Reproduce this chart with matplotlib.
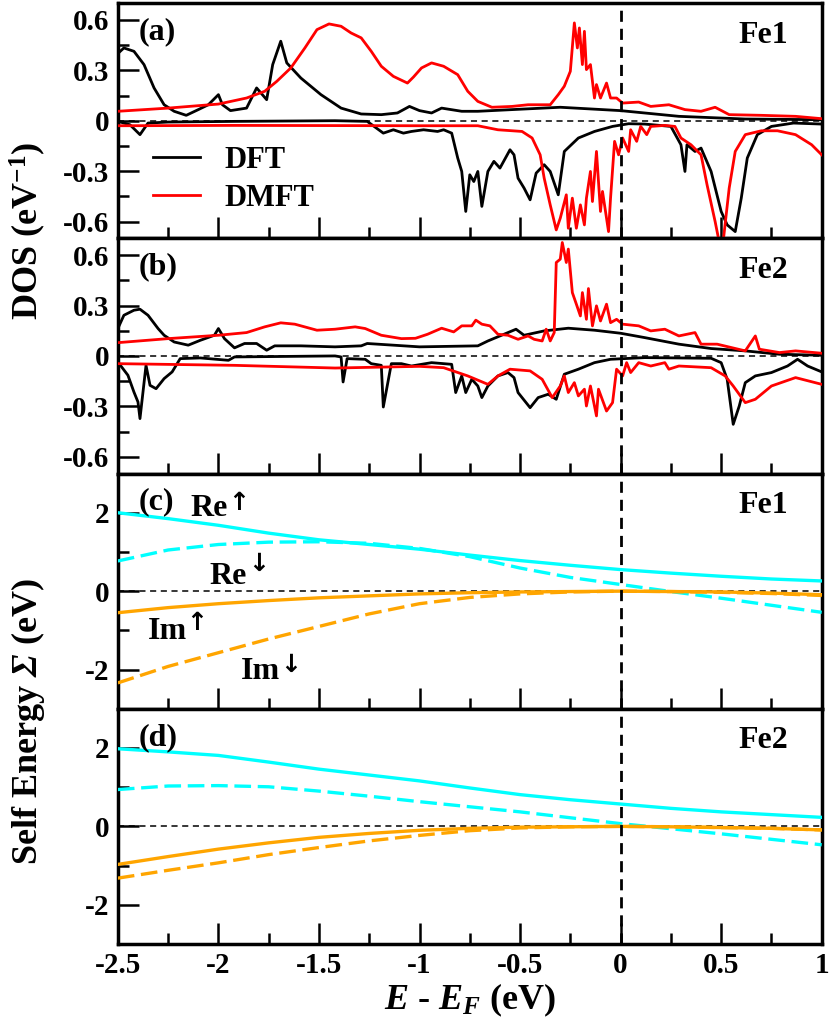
import numpy as np
import matplotlib
matplotlib.use("Agg")
import matplotlib.pyplot as plt
from matplotlib.ticker import MultipleLocator

# ---- fonts: bold Times-like serif everywhere ----
plt.rcParams['font.family'] = ['Liberation Serif', 'DejaVu Serif']
plt.rcParams['font.weight'] = 'bold'
plt.rcParams['axes.unicode_minus'] = False
plt.rcParams['mathtext.fontset'] = 'custom'
plt.rcParams['mathtext.rm'] = 'Liberation Serif:bold'
plt.rcParams['mathtext.bf'] = 'Liberation Serif:bold'
plt.rcParams['mathtext.it'] = 'Liberation Serif:bold:italic'
plt.rcParams['mathtext.bfit'] = 'Liberation Serif:bold:italic'

# ---- Fe1 DOS (panel a) ----
fe1_dft_up_e = [-2.50, -2.47, -2.42, -2.37, -2.32, -2.27, -2.22, -2.16, -2.10, -2.05, -2.00, -1.98, -1.94,
                -1.86, -1.81, -1.76, -1.73, -1.69, -1.66, -1.59, -1.49, -1.39, -1.29, -1.19, -1.11, -1.05,
                -1.00, -0.94, -0.89, -0.79, -0.71, -0.54, -0.30, 0.00, 0.29, 0.62, 1.00]
fe1_dft_up = [0.40, 0.433, 0.413, 0.334, 0.195, 0.095, 0.056, 0.032, 0.066, 0.095, 0.155, 0.095, 0.06,
              0.075, 0.195, 0.125, 0.334, 0.473, 0.344, 0.254, 0.155, 0.075, 0.04, 0.036, 0.046, 0.085,
              0.06, 0.046, 0.075, 0.056, 0.056, 0.066, 0.08, 0.06, 0.026, 0.01, 0.006]

fe1_dmft_up_e = [-2.50, -2.25, -2.00, -1.86, -1.77, -1.71, -1.64, -1.57, -1.51, -1.45, -1.39, -1.34, -1.29,
                 -1.24, -1.19, -1.13, -1.06, -1.03, -0.99, -0.94, -0.88, -0.81, -0.76, -0.71, -0.64, -0.54,
                 -0.46, -0.35, -0.31, -0.28, -0.25, -0.23, -0.215, -0.205, -0.19, -0.18, -0.17, -0.15,
                 -0.13, -0.12, -0.10, -0.07, -0.05, -0.02, 0.01, 0.09, 0.15, 0.24, 0.32, 0.40, 0.47, 0.54,
                 0.70, 0.87, 1.00]
fe1_dmft_up = [0.056, 0.075, 0.099, 0.135, 0.175, 0.234, 0.314, 0.433, 0.542, 0.576, 0.562, 0.522, 0.493,
               0.413, 0.324, 0.264, 0.224, 0.26, 0.314, 0.344, 0.324, 0.274, 0.175, 0.115, 0.08, 0.085,
               0.095, 0.095, 0.155, 0.205, 0.294, 0.582, 0.433, 0.552, 0.334, 0.532, 0.304, 0.334,
               0.135, 0.215, 0.135, 0.224, 0.135, 0.135, 0.105, 0.111, 0.085, 0.095, 0.066, 0.056, 0.08,
               0.036, 0.032, 0.026, 0.012]

fe1_dft_dn_e = [-2.50, -2.44, -2.39, -2.35, -2.25, -1.92, -1.42, -1.26, -1.18, -1.13, -1.08, -1.04, -0.98,
                -0.91, -0.88, -0.84, -0.81, -0.79, -0.77, -0.75, -0.73, -0.71, -0.69, -0.66, -0.63, -0.60,
                -0.55, -0.53, -0.51, -0.48, -0.45, -0.42, -0.38, -0.35, -0.31, -0.28, -0.21, -0.13, -0.04,
                0.04, 0.12, 0.25, 0.30, 0.32, 0.33, 0.37, 0.40, 0.45, 0.50, 0.53, 0.57, 0.60, 0.63, 0.68,
                0.75, 0.86, 1.00]
fe1_dft_dn = [-0.004, -0.024, -0.083, -0.014, -0.008, -0.004, 0.0, -0.004, -0.074, -0.054, -0.074, -0.064,
              -0.054, -0.064, -0.054, -0.074, -0.222, -0.302, -0.54, -0.322, -0.362, -0.302, -0.51, -0.302,
              -0.242, -0.282, -0.173, -0.203, -0.342, -0.401, -0.471, -0.312, -0.262, -0.302, -0.441,
              -0.183, -0.103, -0.064, -0.034, -0.018, -0.02, -0.034, -0.143, -0.302, -0.143, -0.183,
              -0.163, -0.302, -0.54, -0.62, -0.66, -0.461, -0.222, -0.083, -0.034, -0.014, -0.02]

fe1_dmft_dn_e = [-2.50, -1.92, -1.00, -0.71, -0.61, -0.49, -0.44, -0.40, -0.38, -0.35, -0.32, -0.30, -0.27,
                 -0.26, -0.24, -0.22, -0.20, -0.18, -0.17, -0.15, -0.14, -0.12, -0.10, -0.09, -0.06, -0.05,
                 -0.03, -0.01, 0.01, 0.04, 0.05, 0.08, 0.10, 0.13, 0.15, 0.22, 0.27, 0.30, 0.35, 0.40, 0.43,
                 0.47, 0.49, 0.51, 0.54, 0.57, 0.62, 0.70, 0.78, 0.87, 0.95, 1.00]
fe1_dmft_dn = [-0.03, -0.028, -0.03, -0.03, -0.054, -0.064, -0.103, -0.203, -0.342, -0.501, -0.65, -0.58,
               -0.441, -0.64, -0.461, -0.64, -0.501, -0.62, -0.461, -0.302, -0.481, -0.183, -0.54, -0.421,
               -0.66, -0.461, -0.123, -0.203, -0.103, -0.183, -0.054, -0.123, -0.034, -0.083, -0.034,
               -0.028, -0.034, -0.103, -0.143, -0.203, -0.382, -0.60, -0.72, -0.72, -0.401, -0.183,
               -0.083, -0.06, -0.06, -0.083, -0.143, -0.203]

# ---- Fe2 DOS (panel b) ----
fe2_dft_up_e = [-2.50, -2.47, -2.42, -2.39, -2.35, -2.30, -2.27, -2.22, -2.15, -2.09, -2.02, -2.00, -1.97,
                -1.92, -1.87, -1.81, -1.76, -1.72, -1.59, -1.42, -1.29, -1.26, -1.13, -1.00, -0.71, -0.66,
                -0.58, -0.52, -0.48, -0.38, -0.26, -0.13, 0.00, 0.12, 0.29, 0.45, 0.62, 0.79, 1.00]
fe2_dft_up = [0.163, 0.242, 0.272, 0.278, 0.242, 0.163, 0.123, 0.083, 0.064, 0.093, 0.123, 0.163, 0.103,
              0.048, 0.074, 0.074, 0.034, 0.06, 0.06, 0.054, 0.06, 0.074, 0.064, 0.054, 0.06, 0.089,
              0.129, 0.159, 0.123, 0.149, 0.165, 0.153, 0.135, 0.109, 0.07, 0.044, 0.03, 0.01, 0.004]

fe2_dmft_up_e = [-2.50, -2.25, -2.00, -1.86, -1.77, -1.69, -1.62, -1.51, -1.42, -1.32, -1.27, -1.19, -1.09,
                 -1.02, -0.96, -0.89, -0.83, -0.79, -0.74, -0.72, -0.69, -0.65, -0.61, -0.56, -0.51, -0.46,
                 -0.43, -0.39, -0.37, -0.35, -0.33, -0.32, -0.30, -0.29, -0.27, -0.26, -0.24, -0.22, -0.20,
                 -0.19, -0.17, -0.16, -0.14, -0.12, -0.10, -0.07, -0.05, -0.02, 0.01, 0.09, 0.15, 0.22,
                 0.29, 0.37, 0.40, 0.48, 0.62, 0.67, 0.69, 0.79, 0.87, 1.00]
fe2_dmft_up = [0.079, 0.103, 0.123, 0.139, 0.173, 0.197, 0.189, 0.153, 0.159, 0.173, 0.163, 0.123, 0.103,
               0.105, 0.129, 0.165, 0.143, 0.179, 0.179, 0.213, 0.189, 0.179, 0.129, 0.123, 0.099, 0.119,
               0.099, 0.089, 0.159, 0.089, 0.139, 0.556, 0.576, 0.675, 0.556, 0.636, 0.377, 0.308, 0.238,
               0.377, 0.218, 0.401, 0.179, 0.298, 0.208, 0.308, 0.198, 0.218, 0.189, 0.179, 0.149, 0.159,
               0.119, 0.139, 0.07, 0.07, 0.03, 0.119, 0.04, 0.02, 0.03, 0.016]

fe2_dft_dn_e = [-2.50, -2.45, -2.42, -2.40, -2.39, -2.36, -2.34, -2.31, -2.27, -2.23, -2.19, -2.09, -1.95,
                -1.92, -1.42, -1.39, -1.38, -1.36, -1.27, -1.24, -1.19, -1.18, -1.14, -1.09, -1.04, -0.94,
                -0.84, -0.82, -0.79, -0.77, -0.74, -0.71, -0.69, -0.66, -0.61, -0.56, -0.53, -0.51, -0.45,
                -0.41, -0.36, -0.32, -0.28, -0.21, -0.13, -0.05, 0.12, 0.45, 0.50, 0.53, 0.56, 0.59, 0.62,
                0.67, 0.75, 0.83, 0.88, 0.93, 1.00]
fe2_dft_dn = [-0.036, -0.115, -0.215, -0.274, -0.373, -0.056, -0.175, -0.195, -0.135, -0.095, -0.016,
              -0.012, -0.026, -0.006, 0.0, -0.006, -0.155, -0.016, -0.02, -0.046, -0.056, -0.304, -0.046,
              -0.046, -0.06, -0.04, -0.05, -0.218, -0.119, -0.218, -0.139, -0.179, -0.248, -0.179, -0.119,
              -0.099, -0.129, -0.218, -0.308, -0.248, -0.228, -0.258, -0.109, -0.079, -0.04, -0.02, -0.01,
              -0.014, -0.04, -0.139, -0.407, -0.298, -0.159, -0.119, -0.099, -0.06, -0.02, -0.06, -0.095]

fe2_dmft_dn_e = [-2.50, -1.92, -1.42, -1.00, -0.88, -0.76, -0.66, -0.61, -0.55, -0.45, -0.39, -0.34, -0.30,
                 -0.28, -0.26, -0.23, -0.21, -0.18, -0.17, -0.15, -0.12, -0.11, -0.07, -0.04, -0.02, 0.01,
                 0.03, 0.05, 0.09, 0.15, 0.22, 0.24, 0.29, 0.45, 0.52, 0.56, 0.62, 0.67, 0.75, 0.87, 1.00]
fe2_dmft_dn = [-0.046, -0.056, -0.072, -0.062, -0.07, -0.119, -0.169, -0.119, -0.079, -0.089, -0.139,
               -0.248, -0.179, -0.119, -0.218, -0.159, -0.238, -0.198, -0.298, -0.179, -0.357, -0.198,
               -0.328, -0.278, -0.079, -0.119, -0.04, -0.099, -0.04, -0.06, -0.04, -0.079, -0.06, -0.07,
               -0.119, -0.179, -0.278, -0.258, -0.179, -0.129, -0.169]

# ---- self energies (panels c, d) ----
sigma_e = [-2.5, -2.25, -2.0, -1.75, -1.5, -1.25, -1.0, -0.75, -0.5, -0.25, 0.0, 0.25, 0.5, 0.75, 1.0]
fe1_re_up = [2.00, 1.85, 1.68, 1.48, 1.31, 1.19, 1.07, 0.92, 0.78, 0.66, 0.55, 0.46, 0.38, 0.31, 0.26]
fe1_re_dn = [0.77, 1.05, 1.19, 1.25, 1.26, 1.22, 1.09, 0.88, 0.59, 0.35, 0.17, -0.01, -0.18, -0.36, -0.54]
fe1_im_up = [-0.55, -0.42, -0.32, -0.24, -0.17, -0.12, -0.07, -0.04, -0.02, -0.01, 0.0, -0.01, -0.02, -0.05, -0.09]
fe1_im_dn = [-2.34, -1.92, -1.57, -1.22, -0.90, -0.58, -0.32, -0.16, -0.07, -0.02, 0.0, -0.01, -0.03, -0.06, -0.11]
fe2_re_up = [1.98, 1.90, 1.81, 1.64, 1.46, 1.31, 1.16, 0.98, 0.81, 0.68, 0.57, 0.46, 0.37, 0.30, 0.23]
fe2_re_dn = [0.94, 1.03, 1.04, 1.01, 0.90, 0.77, 0.63, 0.50, 0.37, 0.22, 0.07, -0.06, -0.19, -0.33, -0.47]
fe2_im_up = [-0.97, -0.77, -0.58, -0.42, -0.28, -0.18, -0.10, -0.05, -0.02, -0.01, 0.0, -0.01, -0.03, -0.05, -0.09]
fe2_im_dn = [-1.32, -1.12, -0.93, -0.72, -0.54, -0.37, -0.23, -0.11, -0.04, -0.01, 0.0, -0.01, -0.03, -0.05, -0.09]

# ---- ticks ----
e_ticks = [-2.5, -2, -1.5, -1, -0.5, 0, 0.5, 1]
e_tick_labels = ['-2.5', '-2', '-1.5', '-1', '-0.5', '0', '0.5', '1']
dos_ticks = [-0.6, -0.3, 0, 0.3, 0.6]
dos_tick_labels = ['-0.6', '-0.3', '0', '0.3', '0.6']
sigma_ticks = [-2, 0, 2]
sigma_tick_labels = ['-2', '0', '2']

# spin labels in panel (c): text, text anchor, arrow, arrow anchor
spin_labels = ['Re', 'Re', 'Im', 'Im']
spin_arrows = ['\u2191', '\u2193', '\u2191', '\u2193']
spin_text_pos = [(-2.137, 1.91), (-2.047, 0.17), (-2.35, -1.23), (-1.888, -2.25)]
spin_arrow_pos = [(-1.900, 2.07), (-1.800, 0.52), (-2.108, -1.00), (-1.640, -2.07)]

DASH_LONG = (0, (5, 2))


def style_axis(ax):
    for sp in ax.spines.values():
        sp.set_linewidth(2.5)
    ax.tick_params(which='both', direction='in', top=False, right=False, labelsize=21, pad=6)
    ax.tick_params(which='major', length=15, width=1.8)
    ax.tick_params(which='minor', length=8, width=1.8)
    ax.axhline(0, color='black', lw=1.1, linestyle=(0, (4, 3)), zorder=1)
    ax.axvline(0, color='black', lw=2.0, linestyle=(0, (4, 2.5)), zorder=5)


def panel_text(ax, tag, site):
    ax.text(0.03, 0.94, tag, transform=ax.transAxes, ha='left', va='top', fontsize=23)
    ax.text(0.952, 0.925, site, transform=ax.transAxes, ha='right', va='top', fontsize=23)


def plot_dos(ax, curves):
    (e1, y1), (e2, y2), (e3, y3), (e4, y4) = curves
    ax.plot(e1, y1, color='black', lw=2.0, label='DFT', zorder=2)
    ax.plot(e3, y3, color='black', lw=2.0, zorder=2)
    ax.plot(e2, y2, color='red', lw=2.0, label='DMFT', zorder=3)
    ax.plot(e4, y4, color='red', lw=2.0, zorder=3)
    ax.set_ylim(-0.7, 0.7)
    ax.set_yticks(dos_ticks)
    ax.set_yticklabels(dos_tick_labels)
    ax.yaxis.set_minor_locator(MultipleLocator(0.15))


def plot_sigma(ax, re_up, re_dn, im_up, im_dn):
    ax.plot(sigma_e, re_up, color='cyan', lw=2.4, zorder=3)
    ax.plot(sigma_e, re_dn, color='cyan', lw=2.4, linestyle=DASH_LONG, zorder=3)
    ax.plot(sigma_e, im_up, color='orange', lw=2.4, zorder=3)
    ax.plot(sigma_e, im_dn, color='orange', lw=2.4, linestyle=DASH_LONG, zorder=3)
    ax.set_ylim(-3, 3)
    ax.set_yticks(sigma_ticks)
    ax.set_yticklabels(sigma_tick_labels)
    ax.yaxis.set_minor_locator(MultipleLocator(1))


fig, axes = plt.subplots(4, 1, sharex=True, figsize=(8.3, 10.3), dpi=100)
fig.subplots_adjust(left=0.142, right=0.990, top=0.997, bottom=0.0835, hspace=0)
ax_a, ax_b, ax_c, ax_d = axes

plot_dos(ax_a, [(fe1_dft_up_e, fe1_dft_up), (fe1_dmft_up_e, fe1_dmft_up),
                (fe1_dft_dn_e, fe1_dft_dn), (fe1_dmft_dn_e, fe1_dmft_dn)])
plot_dos(ax_b, [(fe2_dft_up_e, fe2_dft_up), (fe2_dmft_up_e, fe2_dmft_up),
                (fe2_dft_dn_e, fe2_dft_dn), (fe2_dmft_dn_e, fe2_dmft_dn)])
plot_sigma(ax_c, fe1_re_up, fe1_re_dn, fe1_im_up, fe1_im_dn)
plot_sigma(ax_d, fe2_re_up, fe2_re_dn, fe2_im_up, fe2_im_dn)

for ax in axes:
    style_axis(ax)

ax_d.set_xlim(-2.5, 1.0)
ax_d.set_xticks(e_ticks)
ax_d.set_xticklabels(e_tick_labels)
ax_d.xaxis.set_minor_locator(MultipleLocator(0.25))

panel_text(ax_a, '(a)', 'Fe1')
panel_text(ax_b, '(b)', 'Fe2')
panel_text(ax_c, '(c)', 'Fe1')
panel_text(ax_d, '(d)', 'Fe2')

ax_a.legend(loc='center left', bbox_to_anchor=(0.05, 0.25), frameon=False, fontsize=22,
            handlelength=1.55, handletextpad=0.8, labelspacing=0.3, borderpad=0, borderaxespad=0)

# spin labels for the Fe1 self energy
for lab, (x, y) in zip(spin_labels, spin_text_pos):
    ax_c.text(x, y, lab, fontsize=23, ha='left', va='baseline')
for arr, (x, y) in zip(spin_arrows, spin_arrow_pos):
    ax_c.text(x, y, arr, fontsize=18, ha='center', va='baseline', family='DejaVu Sans',
              fontweight='bold')

fig.text(0.034, 1 - 231 / 1030, r'DOS (eV$^{-1}$)', rotation=90, ha='center', va='center', fontsize=26)
fig.text(0.034, 1 - 722 / 1030, r'Self Energy $\mathbfit{\Sigma}$ (eV)', rotation=90, ha='center',
         va='center', fontsize=26)
fig.text(0.566, 1 - 1000 / 1030, r'$E$ - $E_F$ (eV)', ha='center', va='center', fontsize=26)

fig.savefig('out.png', dpi=100)
